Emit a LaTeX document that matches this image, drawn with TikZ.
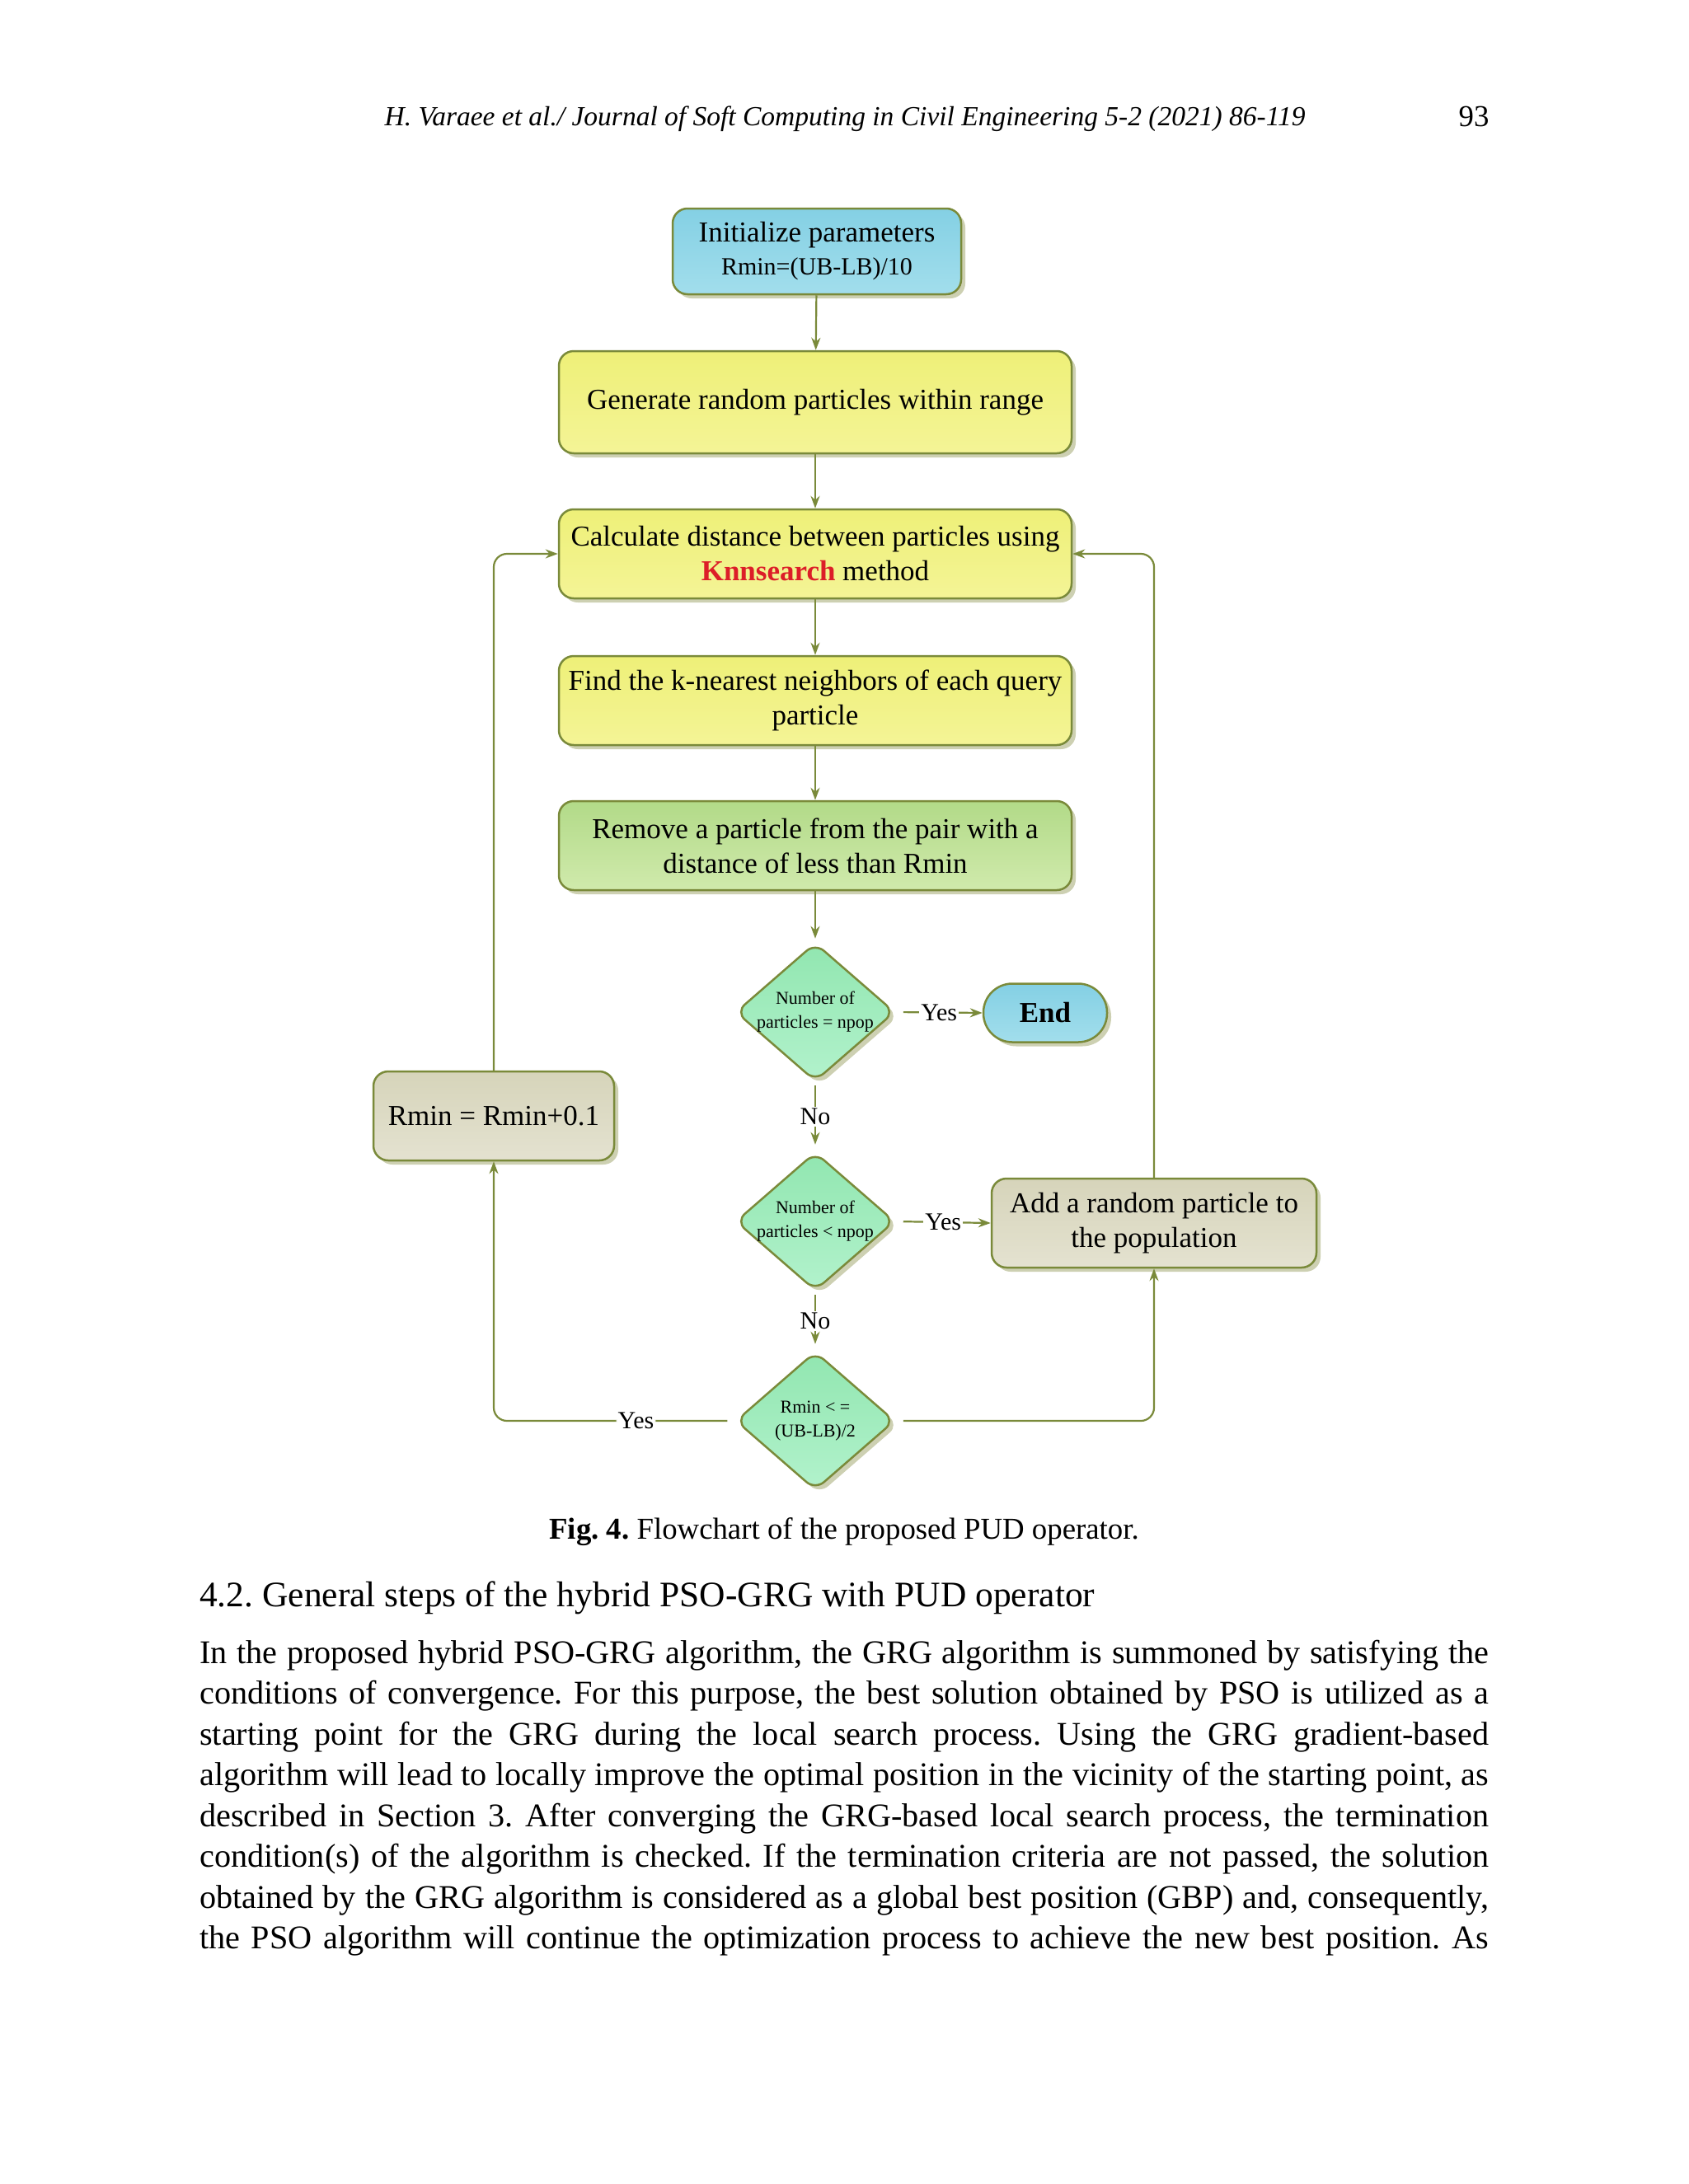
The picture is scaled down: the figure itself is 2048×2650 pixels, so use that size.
\documentclass[tikz,border=0pt]{standalone}
\usepackage{fontspec}
\setmainfont{Liberation Serif}
\frenchspacing
\usetikzlibrary{shapes.geometric,arrows.meta,shadows}
\definecolor{lineC}{RGB}{122,138,58}
\definecolor{shadowC}{RGB}{205,208,178}
\definecolor{blueA}{RGB}{132,208,228}
\definecolor{blueB}{RGB}{162,222,236}
\definecolor{yelA}{RGB}{238,240,120}
\definecolor{yelB}{RGB}{244,244,150}
\definecolor{grnA}{RGB}{178,218,136}
\definecolor{grnB}{RGB}{208,234,172}
\definecolor{mintA}{RGB}{145,230,176}
\definecolor{mintB}{RGB}{178,242,204}
\definecolor{begA}{RGB}{214,212,186}
\definecolor{begB}{RGB}{228,226,208}
\definecolor{knnred}{RGB}{220,30,40}
\tikzset{
  x=1pt, y=-1pt,
  shad/.style={drop shadow={shadow xshift=5pt,shadow yshift=-5pt,fill=shadowC,opacity=1}},
  box/.style={draw=lineC, line width=2.5pt, rounded corners=18pt, align=center, inner sep=0pt,
    shad, font=\fontsize{35}{42}\selectfont, minimum height=108pt},
  bluebox/.style={box, top color=blueA, bottom color=blueB},
  yelbox/.style={box, top color=yelA, bottom color=yelB, minimum width=622pt},
  grnbox/.style={box, top color=grnA, bottom color=grnB, minimum width=622pt},
  begbox/.style={box, top color=begA, bottom color=begB},
  dia/.style={diamond, draw=lineC, line width=2.5pt, rounded corners=14pt, inner sep=0pt,
    minimum width=193pt, minimum height=168pt, top color=mintA, bottom color=mintB, shad},
  dtext/.style={align=center, inner sep=0pt, font=\fontsize{22}{29}\selectfont},
  conn/.style={draw=lineC, line width=2.2pt, -{Stealth[length=15pt,width=11pt]}},
  lbl/.style={fill=white, inner sep=2pt, font=\fontsize{30}{36}\selectfont},
  bodyline/.style={anchor=base west, inner sep=0pt, font=\fontsize{40.2}{48}\selectfont},
}
\begin{document}
\begin{tikzpicture}
\useasboundingbox (0,0) rectangle (2048,2650);
\fill[white] (0,0) rectangle (2048,2650);

% header
\node[font=\fontsize{33.5}{40}\selectfont\itshape, anchor=base] (hdr) at (1025,152)
  {H. Varaee et al./ Journal of Soft Computing in Civil Engineering 5-2 (2021) 86-119};
\node[font=\fontsize{36.8}{44}\selectfont, anchor=base] (pg) at (1788,153) {93};

% flowchart nodes
\node[bluebox, minimum width=350pt, minimum height=104pt] (init) at (991,305)
  {Initialize parameters\\[-2pt]{\fontsize{30}{36}\selectfont Rmin=(UB-LB)/10}};
\node[yelbox, minimum height=124pt] (gen) at (989,488) {Generate random particles within range};
\node[yelbox] (calc) at (989,672)
  {Calculate distance between particles using\\{\color{knnred}\bfseries Knnsearch} method};
\node[yelbox] (find) at (989,850) {Find the k-nearest neighbors of each query\\particle};
\node[grnbox] (rem) at (989,1026) {Remove a particle from the pair with a\\distance of less than Rmin};

\node[dia] (d1) at (989,1228) {};
\node[dtext] (t1) at (d1) {Number of\\particles = npop};
\node[box, top color=blueA, bottom color=blueB, rounded corners=35pt, minimum width=150pt,
  minimum height=71pt, font=\fontsize{35}{42}\selectfont\bfseries] (end) at (1268,1229) {End};

\node[begbox, minimum width=292pt] (rmin) at (599,1354) {Rmin = Rmin+0.1};

\node[dia] (d2) at (989,1482) {};
\node[dtext] (t2) at (d2) {Number of\\particles < npop};
\node[begbox, minimum width=394pt] (add) at (1400,1484) {Add a random particle to\\the population};

\node[dia] (d3) at (989,1724) {};
\node[dtext] (t3) at (d3) {Rmin < =\\(UB-LB)/2};

% connectors
\draw[conn] (init) -- (gen);
\draw[conn] (gen) -- (calc);
\draw[conn] (calc) -- (find);
\draw[conn] (find) -- (rem);
\draw[conn, shorten >=4pt] (rem) -- (d1);
\draw[conn, shorten <=9pt] (d1.east) -- node[lbl]{Yes} (end.west);
\draw[conn, shorten <=4pt, shorten >=8pt] (d1.south) -- node[lbl]{No} (d2.north);
\draw[conn, shorten <=9pt] (d2.east) -- node[lbl]{Yes} (add.west);
\draw[conn, shorten <=4pt, shorten >=8pt] (d2.south) -- node[lbl]{No} (d3.north);
\draw[conn, rounded corners=16pt, shorten <=9pt] (d3.west) -- node[lbl, pos=0.41]{Yes} (d3.west -| rmin.south) -- (rmin.south);
\draw[conn, rounded corners=16pt] (rmin.north) |- (calc.west);
\draw[conn, rounded corners=16pt, shorten <=9pt] (d3.east) -| (add.south);
\draw[conn, rounded corners=16pt] (add.north) |- (calc.east);

% caption
\node[font=\fontsize{36.8}{44}\selectfont, anchor=base] (cap) at (1024,1867)
  {\textbf{Fig. 4.} Flowchart of the proposed PUD operator.};

% heading
\node[font=\fontsize{43.5}{52}\selectfont, anchor=base west, inner sep=0pt] (head) at (242,1949)
  {4.2. General steps of the hybrid PSO-GRG with PUD operator};

% paragraph
\node[bodyline] (l1) at (242,2018) {\makebox[1564pt][s]{In the proposed hybrid PSO-GRG algorithm, the GRG algorithm is summoned by satisfying the}};
\node[bodyline] (l2) at (242,2067.5) {\makebox[1564pt][s]{conditions of convergence. For this purpose, the best solution obtained by PSO is utilized as a}};
\node[bodyline] (l3) at (242,2117) {\makebox[1564pt][s]{starting point for the GRG during the local search process. Using the GRG gradient-based}};
\node[bodyline] (l4) at (242,2166.5) {\makebox[1564pt][s]{algorithm will lead to locally improve the optimal position in the vicinity of the starting point, as}};
\node[bodyline] (l5) at (242,2216) {\makebox[1564pt][s]{described in Section 3. After converging the GRG-based local search process, the termination}};
\node[bodyline] (l6) at (242,2265.5) {\makebox[1564pt][s]{condition(s) of the algorithm is checked. If the termination criteria are not passed, the solution}};
\node[bodyline] (l7) at (242,2315) {\makebox[1564pt][s]{obtained by the GRG algorithm is considered as a global best position (GBP) and, consequently,}};
\node[bodyline] (l8) at (242,2364.5) {\makebox[1564pt][s]{the PSO algorithm will continue the optimization process to achieve the new best position. As}};
\end{tikzpicture}
\end{document}
